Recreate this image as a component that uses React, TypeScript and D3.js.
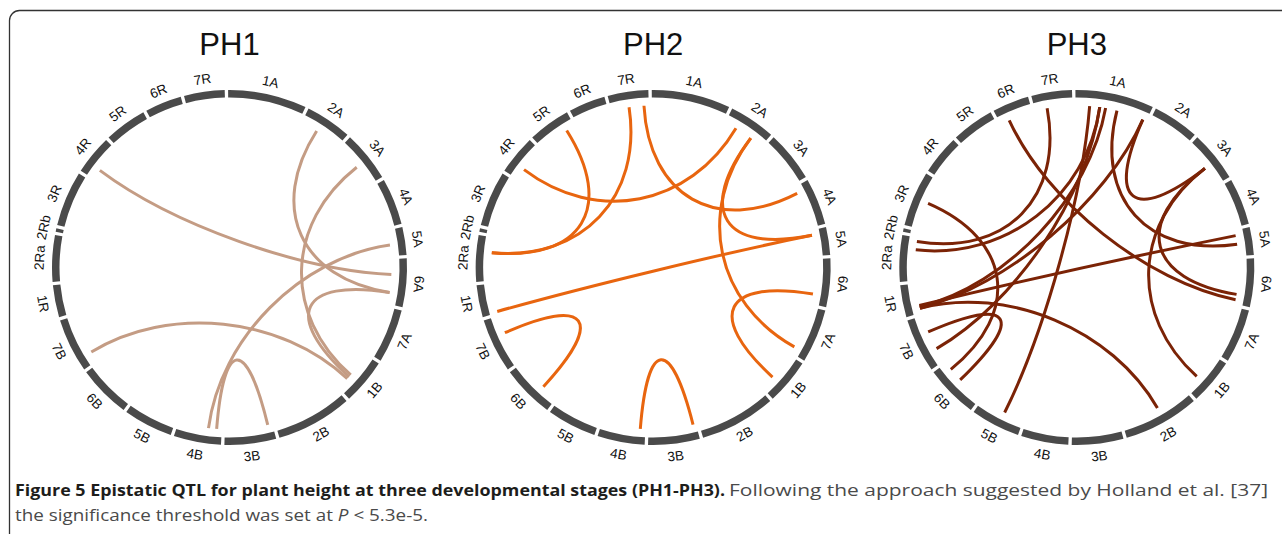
import * as d3 from "d3";

// chromosome order around the circle (clockwise from the top) and map lengths in cM
const chromosomes = ["1A", "2A", "3A", "4A", "5A", "6A", "7A", "1B", "2B", "3B", "4B", "5B", "6B", "7B", "1R", "2Ra", "2Rb", "3R", "4R", "5R", "6R", "7R"];
const chromLengths = [258, 152, 166, 153, 91, 159, 176, 149, 249, 169, 155, 162, 172, 177, 105, 152, 11, 181, 129, 139, 120, 133];

type Link = [string, number, string, number];

// epistatic QTL pairs: [chr, cM, chr, cM]
const ph1Links: Link[] = [
  ["4R", 38, "6A", 54],
  ["2A", 61, "6A", 118],
  ["3A", 90, "1B", 88],
  ["6A", 118, "1B", 97],
  ["7B", 36, "1B", 106],
  ["5A", 52, "4B", 47],
  ["4B", 18, "3B", 16],
];

const ph2Links: Link[] = [
  ["7R", 63, "2Ra", 99],
  ["5R", 107, "2Ra", 99],
  ["4R", 41, "2A", 43],
  ["7R", 116, "4A", 23],
  ["2A", 106, "5A", 17],
  ["2A", 106, "7A", 153],
  ["1R", 5, "5A", 17],
  ["6A", 124, "1B", 98],
  ["7B", 113, "6B", 60],
  ["4B", 18, "3B", 10],
];

const ph3Links: Link[] = [
  ["7R", 43, "2Ra", 139],
  ["6R", 33, "6A", 144],
  ["1A", 50, "5B", 71],
  ["1A", 86, "2Ra", 109],
  ["1A", 107, "1R", 22],
  ["1A", 86, "7B", 50],
  ["1A", 148, "5A", 49],
  ["1A", 245, "3A", 95],
  ["1A", 245, "1R", 17],
  ["3A", 95, "1B", 95],
  ["3A", 95, "6A", 125],
  ["5A", 18, "1R", 27],
  ["1R", 17, "2B", 114],
  ["3R", 95, "6B", 144],
  ["7B", 116, "6B", 94],
];

const panelTitles = ["PH1", "PH2", "PH3"];
const panelLinks = [ph1Links, ph2Links, ph3Links];
const panelColors = ["#c49c84", "#e8650f", "#7b2306"];

const captionBold = "Figure 5 Epistatic QTL for plant height at three developmental stages (PH1-PH3).";
const captionRest1 = "Following the approach suggested by Holland et al. [37]";
const captionLine2a = "the significance threshold was set at ";
const captionLine2b = "P";
const captionLine2c = " < 5.3e-5.";

const WIDTH = 1282;
const HEIGHT = 534;
const GAP = 11;
const R_IN = 170;
const R_OUT = 177.5;
const R_LINK = 162;
const R_LABEL = 190;
const K = 0.44;

const starts = chromosomes.map((_, i) => d3.sum(chromLengths.slice(0, i)) + i * GAP);
const total = d3.sum(chromLengths) + GAP * chromosomes.length;
const angle = d3
  .scaleLinear()
  .domain([0, total])
  .range([(-0.45 * Math.PI) / 180, (359.55 * Math.PI) / 180]);
const chrIndex = new Map(chromosomes.map((c, i) => [c, i]));
const pos = (chr: string, cm: number) => angle(starts[chrIndex.get(chr)!] + cm);

const centerX = d3.scalePoint<string>().domain(panelTitles).range([229.5, 1076.8]);
const CY = 267.5;

const ringArc = d3
  .arc<{ startAngle: number; endAngle: number }>()
  .innerRadius(R_IN)
  .outerRadius(R_OUT);

const pt = (r: number, a: number): [number, number] => [r * Math.sin(a), -r * Math.cos(a)];

function linkPath([c1, p1, c2, p2]: Link) {
  const a0 = pos(c1, p1);
  const a1 = pos(c2, p2);
  const p = d3.path();
  const s = pt(R_LINK, a0);
  const c0 = pt(R_LINK * K, a0);
  const c3 = pt(R_LINK * K, a1);
  const e = pt(R_LINK, a1);
  p.moveTo(s[0], s[1]);
  p.bezierCurveTo(c0[0], c0[1], c3[0], c3[1], e[0], e[1]);
  return p.toString();
}

function Circos({ title, links, color }: { title: string; links: Link[]; color: string }) {
  const cx = centerX(title)!;
  return (
    <g transform={`translate(${cx},${CY})`}>
      <text
        y={-213}
        textAnchor="middle"
        fontFamily="Liberation Sans, Arial, sans-serif"
        fontSize={31}
        fill="#111"
      >
        {title}
      </text>
      {chromosomes.map((c, i) => (
        <path
          key={c}
          d={ringArc({ startAngle: angle(starts[i]), endAngle: angle(starts[i] + chromLengths[i]) }) || ""}
          fill="#4a4a4a"
        />
      ))}
      {chromosomes.map((c, i) => {
        const mid = (angle(starts[i] + chromLengths[i] / 2) * 180) / Math.PI;
        const flip = mid > 100 && mid < 266;
        return (
          <text
            key={c}
            transform={`rotate(${mid}) translate(0,${-R_LABEL}) rotate(${flip ? 180 : 0})`}
            textAnchor="middle"
            dominantBaseline="central"
            fontFamily="Liberation Sans, Arial, sans-serif"
            fontSize={13.5}
            fill="#111"
          >
            {c}
          </text>
        );
      })}
      <g fill="none" stroke={color} strokeWidth={3}>
        {links.map((l, i) => (
          <path key={i} d={linkPath(l)} />
        ))}
      </g>
    </g>
  );
}

export default function App() {
  return (
    <div style={{ position: "absolute", left: 0, top: 0 }}>
      <svg width={WIDTH} height={HEIGHT} style={{ display: "block", background: "#fff" }}>
        <rect x={9.5} y={10.5} width={1400} height={700} rx={10} fill="none" stroke="#333" strokeWidth={1.3} />
        {panelTitles.map((t, i) => (
          <Circos key={t} title={t} links={panelLinks[i]} color={panelColors[i]} />
        ))}
        <g fontFamily="Open Sans, sans-serif" fontSize={15.5}>
          <text x={15} y={496} fontWeight="bold" fill="#1d1d1b" textLength={710} lengthAdjust="spacingAndGlyphs">
            {captionBold}
          </text>
          <text x={729} y={496} fill="#4a4a4a" textLength={539} lengthAdjust="spacingAndGlyphs">
            {captionRest1}
          </text>
          <text x={15} y={521} fill="#4a4a4a" textLength={413} lengthAdjust="spacingAndGlyphs">
            {captionLine2a}
            <tspan fontStyle="italic">{captionLine2b}</tspan>
            {captionLine2c}
          </text>
        </g>
      </svg>
    </div>
  );
}
